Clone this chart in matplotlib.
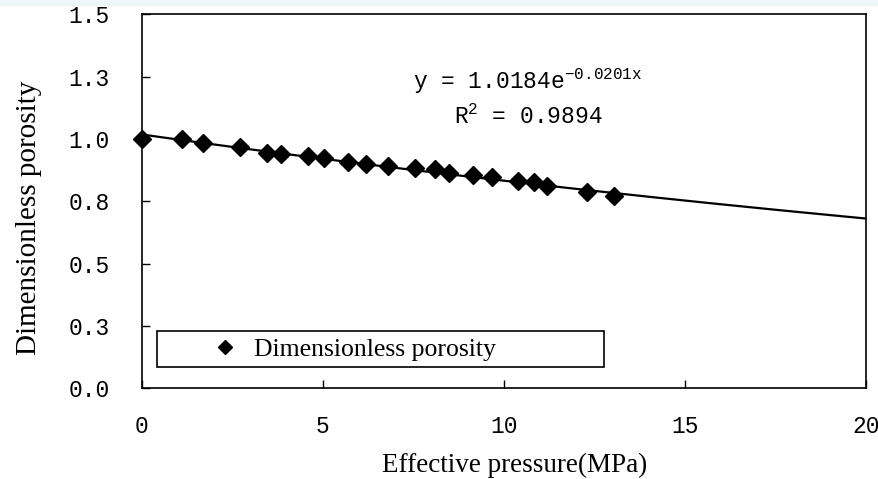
import numpy as np
import matplotlib
matplotlib.use("Agg")
import matplotlib.pyplot as plt
from matplotlib.patches import Rectangle

# measured points (effective pressure in MPa, porosity ratio)
pressure = [0.0, 1.11, 1.69, 2.71, 3.45, 3.84, 4.58, 5.04, 5.69, 6.18, 6.81,
            7.55, 8.09, 8.48, 9.15, 9.68, 10.39, 10.82, 11.19, 12.30, 13.04]
porosity = [1.000, 1.000, 0.984, 0.970, 0.946, 0.939, 0.933, 0.923, 0.907, 0.899, 0.893,
            0.886, 0.880, 0.862, 0.855, 0.848, 0.832, 0.826, 0.812, 0.788, 0.772]

# exponential trendline shown on the chart
fit_a = 1.0184
fit_b = -0.0201
fit_r2 = 0.9894

x_ticks = [0, 5, 10, 15, 20]
y_ticks = [0.0, 0.25, 0.5, 0.75, 1.0, 1.25, 1.5]
y_tick_labels = ["0.0", "0.3", "0.5", "0.8", "1.0", "1.3", "1.5"]

plt.rcParams["mathtext.fontset"] = "custom"
plt.rcParams["mathtext.rm"] = "Liberation Mono"
plt.rcParams["mathtext.it"] = "Liberation Mono"

serif = "Liberation Serif"
mono = "Liberation Mono"

fig = plt.figure(figsize=(8.79, 4.79), dpi=100)
# faint band along the top edge of the screenshot
fig.patches.append(Rectangle((0, 0.99), 1, 0.01, transform=fig.transFigure,
                             color="#eef6fa", zorder=-1))
ax = fig.add_axes([0.1612, 0.189, 0.8244, 0.781])

xs = np.linspace(0, 20, 200)
ax.plot(xs, fit_a * np.exp(fit_b * xs), color="black", lw=1.6, zorder=2)
ax.plot(pressure, porosity, "D", color="black", ms=9.5, ls="none",
        label="Dimensionless porosity", zorder=3, clip_on=False)

ax.set_xlim(0, 20)
ax.set_ylim(0, 1.5)
ax.set_xticks(x_ticks)
ax.set_xticklabels([str(t) for t in x_ticks], fontfamily=mono, fontsize=16.5)
ax.set_yticks(y_ticks)
ax.set_yticklabels(y_tick_labels, fontfamily=mono, fontsize=16.5)
ax.tick_params(axis="x", direction="in", length=6, width=1, pad=19)
ax.tick_params(axis="y", direction="in", length=6, width=1, pad=23)
for s in ax.spines.values():
    s.set_linewidth(1.2)

ax.set_xlabel("Effective pressure(MPa)", fontfamily=serif, fontsize=19.5, labelpad=11)
ax.set_ylabel("Dimensionless porosity", fontfamily=serif, fontsize=21, labelpad=19)
ax.xaxis.label.set_x(0.515)
ax.yaxis.label.set_y(0.456)

ax.text(0.533, 0.82, r"y = %.4fe$^{%.4fx}$" % (fit_a, fit_b), transform=ax.transAxes,
        ha="center", va="center", fontfamily=mono, fontsize=16.5)
ax.text(0.533, 0.726, r"R$^{2}$ = %.4f" % fit_r2, transform=ax.transAxes,
        ha="center", va="center", fontfamily=mono, fontsize=16.5)

# legend box spans wider than its content
ax.add_patch(Rectangle((0.0207, 0.057), 0.617, 0.097, transform=ax.transAxes,
                       fill=False, ec="black", lw=1.2, zorder=4))
ax.legend(loc="center left", bbox_to_anchor=(0.0973, 0.105), frameon=False,
          borderpad=0, borderaxespad=0, handlelength=1.0, handletextpad=0.62,
          markerscale=0.8, prop={"family": serif, "size": 18.5})

fig.savefig("out.png", dpi=100)
